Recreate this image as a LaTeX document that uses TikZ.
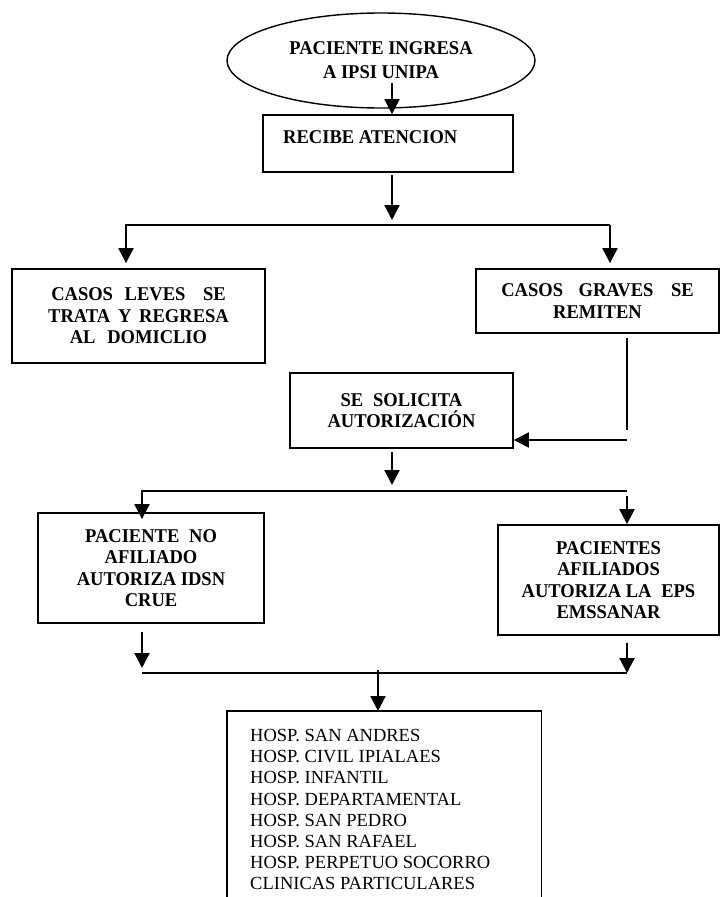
\documentclass[tikz,border=0pt]{standalone}
\usepackage{fontspec}
\setmainfont{Liberation Serif}[FakeStretch=0.95]
\newfontfamily\plainserif{Liberation Serif}
\usetikzlibrary{arrows.meta,shapes.geometric}
\begin{document}
\begin{tikzpicture}[x=1pt,y=-1pt,
  boldtxt/.style={font=\bfseries\fontsize{19.5}{21.5}\selectfont},
  box/.style={draw,line width=1.8pt,inner sep=0pt,align=center,boldtxt},
  arr/.style={line width=2.2pt,-{Triangle[width=15pt,length=15pt]}},
  ln/.style={line width=2.2pt},
  thinln/.style={line width=1.3pt}]
\useasboundingbox (0,0) rectangle (721,897);

% nodes
\node[ellipse,draw,line width=1.4pt,minimum width=308pt,minimum height=95pt,
      inner sep=0pt,align=center,font=\bfseries\fontsize{19.5}{24}\selectfont]
      (start) at (381,60.5) {PACIENTE INGRESA\\A IPSI UNIPA};
\node[box,minimum width=250pt,minimum height=57pt] (recibe) at (388,143.5) {};
\node[boldtxt,anchor=west,inner sep=0pt] (recibeT) at (283,137) {RECIBE ATENCION};
\node[box,minimum width=253pt,minimum height=94pt] (leves) at (138.5,316)
  {CASOS\hspace{0.6em}LEVES\hspace{0.9em}SE\\TRATA\hspace{0.4em}Y\hspace{0.4em}REGRESA\\AL\hspace{0.6em}DOMICLIO};
\node[box,minimum width=243pt,minimum height=64pt] (graves) at (597.5,301)
  {CASOS\hspace{0.8em}GRAVES\hspace{0.9em}SE\\REMITEN};
\node[box,minimum width=223pt,minimum height=75pt] (solicita) at (401.5,410.5)
  {SE\hspace{0.5em}SOLICITA\\AUTORIZACIÓN};
\node[box,minimum width=226pt,minimum height=110pt] (noafil) at (151,568)
  {PACIENTE\hspace{0.5em}NO\\AFILIADO\\AUTORIZA IDSN\\CRUE};
\node[box,minimum width=221pt,minimum height=110pt] (afil) at (608.5,580)
  {PACIENTES\\AFILIADOS\\AUTORIZA LA\hspace{0.5em}EPS\\EMSSANAR};
\node[minimum width=314pt,minimum height=200pt,inner sep=0pt,anchor=north west]
  (hospbox) at (227,711) {};
\node[anchor=north west,inner sep=0pt,align=left,
      font=\plainserif\fontsize{18.5}{21.2}\selectfont] (hospT) at (250,729)
  {HOSP. SAN ANDRES\\HOSP. CIVIL IPIALAES\\HOSP. INFANTIL\\HOSP. DEPARTAMENTAL\\HOSP. SAN PEDRO\\HOSP. SAN RAFAEL\\HOSP. PERPETUO SOCORRO\\CLINICAS PARTICULARES};
\draw[line width=1.8pt] (hospbox.south west) -- (hospbox.north west) -- (hospbox.north east) -- (hospbox.south east);

% connectors
\coordinate (a1) at (392,83);
\draw[arr] (a1) -- (a1 |- recibe.north);
\coordinate (a2) at (392,175);
\coordinate (a3) at (392,220);
\draw[arr] (a2) -- (a3);
\coordinate (b1) at (126,225);
\coordinate (b2) at (610,225);
\draw[arr,shorten >=5pt] (b2) -- (b1) -- (b1 |- leves.north);
\draw[arr,shorten >=5pt] (b2) -- (b2 |- graves.north);
\coordinate (g1) at (627,338);
\coordinate (g2) at (627,430);
\draw[thinln] (g1) -- (g2);
\coordinate (g3) at (627,440);
\draw[arr] (g3) -- (g3 -| solicita.east);
\coordinate (s1) at (392,452);
\coordinate (s2) at (392,485);
\draw[arr] (s1) -- (s2);
\coordinate (d1) at (142,491);
\coordinate (d2) at (627,491);
\draw[arr,shorten >=-7pt] (d2) -- (d1) -- (d1 |- noafil.north);
\coordinate (d3) at (627,496);
\draw[arr] (d3) -- (d3 |- afil.north);
\coordinate (e1) at (142,632);
\coordinate (e2) at (142,668);
\draw[arr] (e1) -- (e2);
\coordinate (e3) at (627,643);
\coordinate (f2) at (627,673);
\draw[arr] (e3) -- (f2);
\coordinate (f1) at (142,673);
\draw[ln] (f1) -- (f2);
\coordinate (h1) at (378,670);
\draw[arr] (h1) -- (h1 |- hospbox.north);
\end{tikzpicture}
\end{document}
